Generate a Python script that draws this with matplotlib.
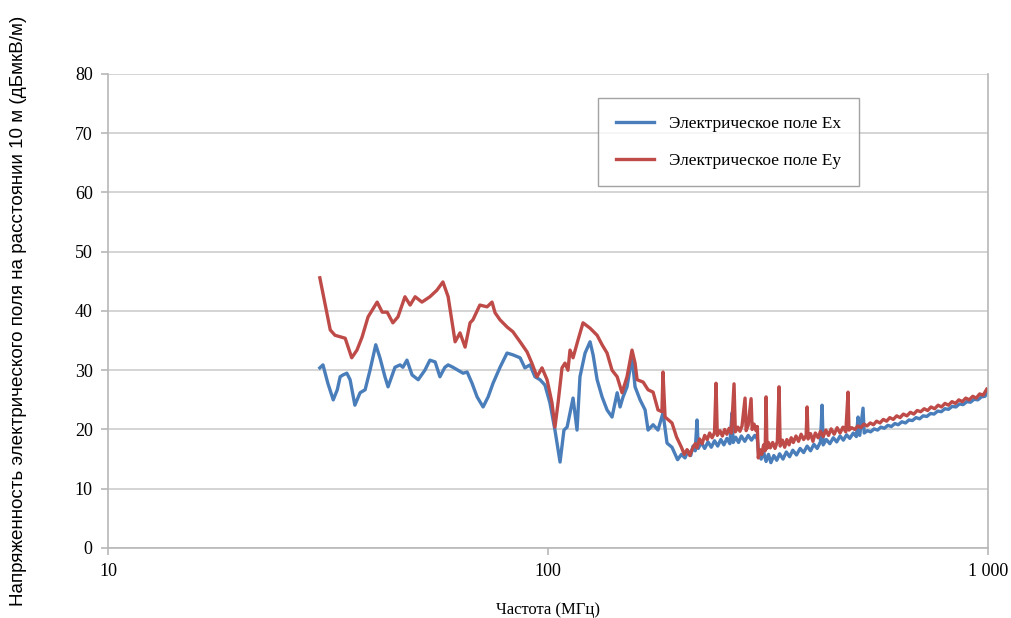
import matplotlib
matplotlib.use("Agg")
import matplotlib.pyplot as plt
from matplotlib.ticker import FixedLocator, NullLocator

# Ex (blue) and Ey (red), MHz / dBuV/m
ex_freq = [30.3, 30.8, 31.6, 32.5, 33.2, 33.7, 34.2, 34.9, 35.5, 36.4, 37.4, 38.4,
           39.4, 40.6, 41.5, 42.6, 43.3, 44.9, 46.1, 46.8, 47.8, 49.1, 50.7, 52.5,
           53.9, 55.4, 56.8, 58.3, 59.3, 60.8, 62.4, 64.1, 65.5, 67.2, 69.0, 71.2,
           73.1, 75.0, 77.8, 80.7, 83.2, 86.4, 88.6, 91.0, 93.4, 95.9, 98.4, 101,
           103.7, 106.5, 108.7, 110.5, 112.2, 114.0, 116.4, 118.2, 121.4, 124.6, 126.6,
           129.3, 132.7, 136.2, 139.8, 143.6, 145.8, 148.1, 151.2, 155.2, 157.7, 161.9,
           166.2, 168.8, 173.3, 177.8, 182.5, 186.4, 191.3,
           197, 201, 204.8, 208, 211, 213.6, 216, 218.1, 219.5, 223, 227, 231, 235,
           239, 243, 247, 251, 255, 259, 261.9, 263.5, 267, 271, 275, 280, 285, 290,
           295, 299, 301, 305, 309, 313, 317, 321, 326, 331, 336, 342, 348, 354, 360,
           367, 374, 381, 388, 395, 402, 409, 416, 419.6, 422, 429, 437, 445, 453, 461,
           469, 477, 485, 494, 502, 506.6, 511, 519.9, 523, 532, 541, 551, 561, 571,
           581, 592, 603, 614, 625, 637, 649, 661, 673, 686, 699, 712, 726, 740, 754,
           768, 783, 798, 813, 829, 845, 861, 878, 895, 912, 930, 948, 966, 984, 995]
ex_level = [30.4, 30.9, 27.8, 25.0, 26.7, 28.9, 29.2, 29.5, 28.4, 24.1, 26.2, 26.7,
            30.0, 34.3, 32.1, 28.9, 27.2, 30.5, 30.9, 30.5, 31.7, 29.2, 28.4, 30.0,
            31.7, 31.4, 28.9, 30.5, 30.9, 30.5, 30.0, 29.5, 29.7, 27.8, 25.5, 23.8,
            25.5, 27.8, 30.5, 32.9, 32.6, 32.1, 30.4, 30.9, 28.9, 28.4, 27.5, 24.5,
            19.9, 14.5, 19.9, 20.4, 22.8, 25.3, 19.9, 28.9, 32.9, 34.8, 32.6,
            28.4, 25.5, 23.3, 22.1, 26.2, 23.8, 25.5, 27.2, 32.2, 27.2, 25.0,
            23.3, 19.9, 20.8, 19.9, 22.8, 17.7, 17.0,
            14.9, 15.8, 15.2, 16.4, 15.6, 17.2, 16.4, 21.6, 16.8, 17.8, 16.8, 17.9, 17.0,
            18.1, 17.2, 18.3, 17.4, 18.5, 17.6, 22.8, 17.8, 18.7, 17.8, 18.9, 18.0, 19.0, 18.2,
            19.0, 18.4, 16.0, 15.0, 16.2, 14.6, 15.8, 14.4, 15.6, 14.8, 15.9, 15.0, 16.2, 15.4, 16.5,
            15.7, 16.8, 16.1, 17.2, 16.4, 17.5, 16.8, 17.9, 24.1, 17.4, 18.3, 17.6, 18.6, 17.9, 18.9,
            18.2, 19.1, 18.5, 19.4, 18.8, 22.1, 19.0, 23.6, 19.4, 19.8, 19.6, 20.1, 19.9, 20.4,
            20.2, 20.7, 20.5, 21.0, 20.8, 21.3, 21.1, 21.6, 21.5, 22.0, 21.8, 22.3, 22.2, 22.7, 22.6,
            23.1, 23.0, 23.5, 23.4, 23.9, 23.8, 24.3, 24.2, 24.7, 24.6, 25.1, 25.0, 25.5, 25.6, 26.3]

ey_freq = [30.3, 32.0, 32.8, 34.6, 35.8, 36.8, 37.8, 39.0, 40.9, 42.0, 43.1, 44.4,
           45.6, 47.3, 48.6, 49.9, 51.7, 53.9, 55.9, 57.7, 59.3, 61.5, 63.1, 64.8,
           66.5, 67.5, 70.0, 72.7, 74.6, 75.8, 77.8, 80.7, 83.2, 86.4, 89.6, 91.9,
           94.4, 96.9, 99.5, 102.1, 103.7, 105.4, 107.6, 109.3, 111.0, 112.2, 114.0,
           117.0, 120.1, 124.6, 129.3, 132.7, 136.2, 139.8, 143.6, 147.3, 151.2, 155.2,
           157.7, 159.4, 164.5, 168.8, 173.3, 177.8, 181.5, 182.5, 184.5, 191.3,
           196, 201, 204, 207, 210, 213, 216, 218, 221, 224, 227, 230, 233, 236, 239,
           240.9, 242.5, 246, 249, 252, 255, 258, 261, 264.7, 266.5, 270, 273, 276,
           280.4, 282, 285, 289.4, 291, 294, 297, 299, 300.5, 303, 306, 309, 311.5,
           313, 314.5, 317, 320, 324, 328, 332, 335, 337, 341, 345, 349, 353, 357,
           361, 366, 371, 376, 381, 386, 388, 390, 395, 400, 405, 411, 416, 422, 428,
           434, 440, 447, 454, 461, 468, 475, 480.7, 483, 490, 498, 506, 514, 522,
           531, 540, 549, 558, 568, 578, 588, 598, 609, 620, 631, 642, 654, 666, 678,
           690, 703, 716, 729, 742, 756, 770, 784, 798, 813, 828, 843, 858, 874, 890,
           906, 923, 940, 957, 975, 993]
ey_level = [45.6, 36.8, 35.9, 35.4, 32.1, 33.4, 35.6, 39.0, 41.5, 39.8, 39.8, 38.0,
            39.0, 42.4, 41.0, 42.4, 41.5, 42.4, 43.5, 44.9, 42.4, 34.8, 36.3, 33.9,
            38.0, 38.5, 41.0, 40.7, 41.5, 39.7, 38.5, 37.3, 36.5, 34.8, 33.1, 31.2,
            28.9, 30.4, 28.4, 24.5, 20.4, 24.5, 30.4, 31.2, 30.0, 33.4, 32.1,
            35.1, 38.0, 37.1, 35.9, 34.3, 32.9, 30.0, 28.9, 26.2, 28.9, 33.4,
            31.2, 28.4, 28.0, 26.7, 26.3, 23.3, 23.0, 29.7, 22.1, 21.1,
            18.7, 17.0, 15.8, 16.6, 15.6, 16.8, 17.6, 16.9, 18.4, 17.6, 19.0, 18.3, 19.4, 18.6, 19.5,
            27.8, 19.0, 19.8, 18.9, 20.0, 19.2, 20.2, 19.4, 27.7, 19.6, 20.4, 19.7, 20.6,
            25.3, 19.8, 20.7, 25.2, 20.0, 20.9, 19.8, 20.5, 15.2, 16.6, 15.8, 17.4, 16.4,
            25.5, 16.8, 17.8, 16.9, 17.8, 16.8, 18.0, 27.2, 17.2, 18.2, 17.0, 18.3, 17.4, 18.6,
            17.8, 18.9, 18.0, 19.2, 18.3, 19.0, 23.8, 18.4, 19.3, 18.0, 19.4, 18.6, 19.7, 18.8, 19.9,
            19.0, 20.1, 19.2, 20.3, 19.4, 20.4, 19.6, 26.3, 19.9, 20.3, 20.0, 20.6, 20.3, 20.9,
            20.6, 21.1, 20.8, 21.4, 21.1, 21.7, 21.4, 22.0, 21.7, 22.3, 22.0, 22.6, 22.3, 22.9, 22.6,
            23.2, 23.0, 23.5, 23.2, 23.8, 23.5, 24.1, 23.8, 24.4, 24.1, 24.7, 24.4, 25.0, 24.7, 25.3,
            25.0, 25.6, 25.3, 26.0, 25.8, 26.8]

x_ticks = [10, 100, 1000]
x_labels = ["10", "100", "1 000"]
y_ticks = [0, 10, 20, 30, 40, 50, 60, 70, 80]

serif = ["Liberation Serif", "DejaVu Serif"]

fig = plt.figure(figsize=(10.11, 6.18), dpi=100)
ax = fig.add_axes([0.1068, 0.1133, 0.8705, 0.767])

ax.plot(ex_freq, ex_level, color="#4a7ebb", lw=2.4, label="Электрическое поле Ex")
ax.plot(ey_freq, ey_level, color="#be4b48", lw=2.4, label="Электрическое поле Ey")

ax.set_xscale("log")
ax.set_xlim(10, 1000)
ax.set_ylim(0, 80)
ax.xaxis.set_major_locator(FixedLocator(x_ticks))
ax.xaxis.set_minor_locator(NullLocator())
ax.set_xticks(x_ticks)
ax.set_xticklabels(x_labels)
ax.set_yticks(y_ticks)

ax.grid(axis="y", color="#d4d4d4", lw=1.4)
ax.set_axisbelow(True)
for side in ["left", "bottom", "right"]:
    ax.spines[side].set_color("#b8b8b8")
    ax.spines[side].set_linewidth(1.2)
ax.spines["top"].set_visible(False)
ax.tick_params(axis="both", colors="#b8b8b8", length=5, width=1.2,
               labelcolor="black", labelsize=13, pad=6)
for lbl in ax.get_xticklabels() + ax.get_yticklabels():
    lbl.set_family(serif)

ax.set_xlabel("Частота (МГц)", fontsize=12, family=serif, labelpad=16)
fig.text(0.018, 0.497, "Напряженность электрического поля на расстоянии 10 м (дБмкВ/м)",
         rotation=90, va="center", ha="center", fontsize=13.6,
         family=["Liberation Sans", "DejaVu Sans"])

leg = ax.legend(loc="upper left", bbox_to_anchor=(0.557, 0.949), borderaxespad=0,
                frameon=True, fancybox=False, prop={"family": serif, "size": 12.5},
                handlelength=2.2, handletextpad=0.9, labelspacing=1.2, borderpad=1.0)
leg.get_frame().set_edgecolor("#8c8c8c")
leg.get_frame().set_linewidth(1.0)

fig.savefig("out.png", dpi=100)
